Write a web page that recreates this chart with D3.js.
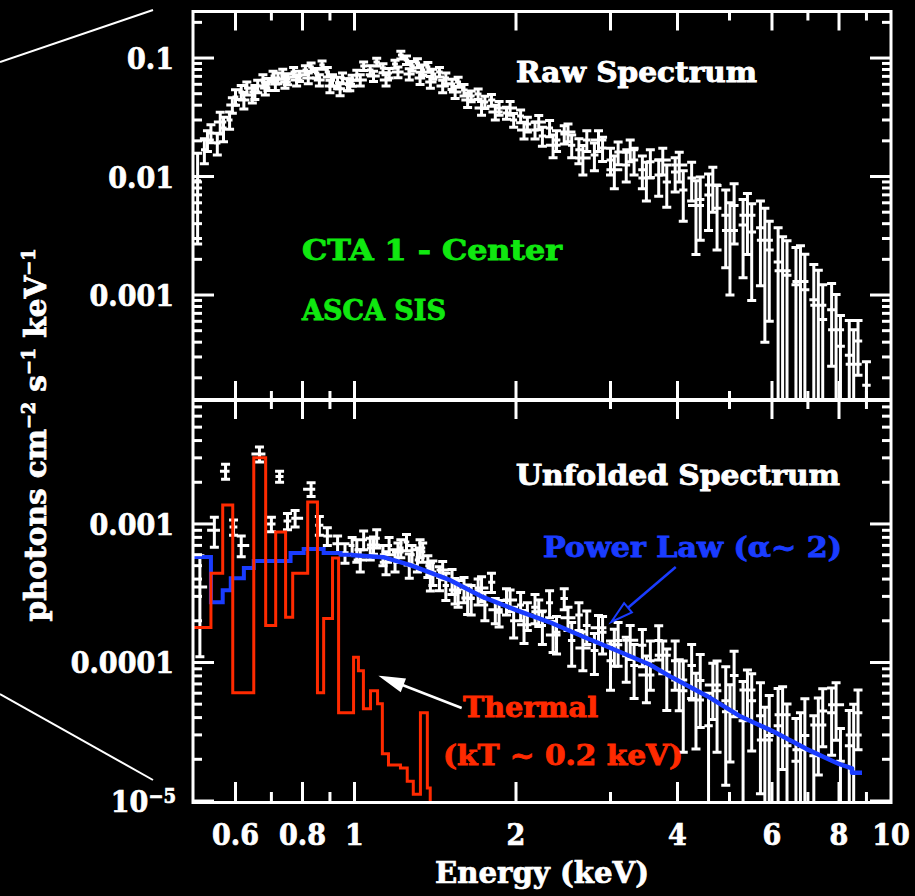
<!DOCTYPE html>
<html><head><meta charset="utf-8">
<script src="https://cdn.jsdelivr.net/npm/d3@7"></script>
<style>body{margin:0;background:#000;overflow:hidden}</style>
</head><body><svg id="c" width="915" height="896"></svg>
<script>
// ---------------- DATA ----------------
// Raw spectrum (top panel), detector A: bin centre energy (keV), flux, 1-sigma error
const rawE = [0.51,0.525,0.54,0.555,0.57,0.585,0.60,0.615,0.63,0.645,0.66,0.675,0.69,0.705,0.72,0.735,0.75,
  0.77,0.79,0.81,0.83,0.85,0.87,0.89,0.91,0.93,0.95,0.97,0.99,1.01,
  1.04,1.07,1.10,1.13,1.16,1.19,1.22,1.25,1.28,1.31,1.34,1.37,1.40,
  1.44,1.48,1.52,1.56,1.60,1.65,1.70,1.75,1.80,1.86,1.92,1.98,2.04,2.10,
  2.17,2.24,2.31,2.38,2.46,2.54,2.62,2.71,2.80,2.90,3.00,3.10,3.21,3.32,3.44,3.56,
  3.69,3.82,3.96,4.10,4.25,4.41,4.57,4.74,4.92,5.10,5.30,5.50,5.71,5.93,
  6.16,6.40,6.65,6.91,7.18,7.46,7.75,8.05,8.36,8.68,9.00];
const rawV = [0.0092,0.0168,0.0233,0.0192,0.0257,0.030,0.047,0.0516,0.0558,0.0487,0.058,0.0652,0.0603,0.0705,0.0678,0.0733,0.0665,
  0.0762,0.0705,0.0792,0.0839,0.0747,0.0873,0.0762,0.0652,0.062,0.0678,0.060,0.0647,0.0719,
  0.0856,0.0792,0.0925,0.0823,0.0747,0.089,0.106,0.0962,0.0856,0.0907,0.0792,0.0839,0.0733,
  0.0762,0.0678,0.0603,0.0627,0.0537,0.0478,0.0497,0.0425,0.0442,0.0379,0.0344,0.030,0.0324,0.0277,
  0.0247,0.022,0.0257,0.0203,0.0228,0.0184,0.0168,0.0203,0.0152,0.0174,0.0138,0.0161,0.0125,0.0138,0.0114,0.0133,
  0.0103,0.009,0.0109,0.0077,0.0097,0.0064,0.007,0.0054,0.0047,0.0057,0.0039,0.0034,0.0037,0.0024,
  0.0019,0.00147,0.00122,0.00111,0.00091,0.00062,0.00075,0.00037,0.00031,0.00041,0.000173];
const rawErr = [0.0065,0.004,0.004,0.004,0.006,0.005,0.007,0.007,0.007,0.007,0.007,0.007,0.007,0.007,0.007,0.007,0.007,
  0.007,0.007,0.007,0.007,0.007,0.007,0.007,0.007,0.007,0.007,0.007,0.007,0.007,
  0.007,0.007,0.007,0.007,0.007,0.007,0.008,0.008,0.008,0.008,0.008,0.008,0.007,
  0.007,0.007,0.006,0.006,0.006,0.005,0.005,0.005,0.005,0.005,0.004,0.004,0.004,0.004,
  0.004,0.004,0.004,0.004,0.004,0.004,0.004,0.004,0.004,0.004,0.0035,0.0035,0.0035,0.0035,0.0035,0.0035,
  0.0035,0.0035,0.0035,0.0035,0.0035,0.0035,0.0035,0.003,0.003,0.003,0.0025,0.0025,0.0025,0.0018,
  0.0018,0.0014,0.0013,0.0011,0.0009,0.0006,0.0005,0.0003,0.0003,0.0002,0.0001];

// Raw spectrum, detector B (interleaved bins)
const raw2E = [0.532,0.562,0.592,0.622,0.652,0.682,0.712,0.742,0.78,0.82,0.86,0.90,0.94,0.98,
  1.025,1.085,1.145,1.205,1.265,1.325,1.385,1.46,1.54,1.625,1.725,1.83,1.95,2.07,2.205,2.345,2.50,
  2.665,2.85,3.05,3.265,3.50,3.755,4.03,4.33,4.655,5.01,5.40,5.82,6.28,6.78,7.32,7.90,8.52];
const raw2V = [0.0203,0.0288,0.0402,0.0442,0.0516,0.0558,0.0603,0.0627,0.0652,0.0678,0.0652,0.058,0.055,0.060,
  0.0652,0.0705,0.0652,0.0762,0.0733,0.0678,0.0627,0.058,0.0516,0.0442,0.0379,0.035,0.0379,0.0247,0.0288,0.0184,0.0237,
  0.0143,0.0203,0.0114,0.0168,0.0097,0.0138,0.0125,0.0057,0.0085,0.0035,0.0047,0.0029,0.0016,0.0013,0.00082,0.00051,0.00026];
const raw2Err = [0.004,0.006,0.006,0.007,0.007,0.007,0.007,0.007,0.007,0.007,0.007,0.007,0.007,0.007,
  0.007,0.007,0.007,0.008,0.008,0.008,0.007,0.007,0.006,0.006,0.005,0.005,0.005,0.004,0.004,0.004,0.004,
  0.004,0.004,0.0035,0.0035,0.0035,0.0035,0.0035,0.0035,0.0035,0.0025,0.0025,0.0025,0.0015,0.0013,0.0008,0.0005,0.00025];

// Unfolded spectrum (bottom panel), detector A
const unfE = [0.515,0.548,0.575,0.595,0.615,0.665,0.70,0.725,0.75,0.775,0.83,0.86,0.89,0.93,0.96,0.99,
  1.01,1.04,1.07,1.10,1.13,1.16,1.19,1.22,1.25,1.28,1.31,1.34,1.37,1.40,
  1.44,1.48,1.52,1.56,1.60,1.65,1.70,1.75,1.80,1.86,1.92,1.98,2.04,2.10,
  2.17,2.24,2.31,2.38,2.46,2.54,2.62,2.71,2.80,2.90,3.00,3.10,3.21,3.32,3.44,3.56,
  3.69,3.82,3.96,4.10,4.25,4.41,4.57,4.74,4.92,5.10,5.30,5.50,5.71,5.93,
  6.16,6.40,6.65,6.91,7.18,7.46,7.75,8.05,8.36,8.68];
const unfV = [0.00035,0.0009,0.0024,0.00095,0.0007,0.0032,0.001,0.0022,0.00105,0.0011,0.00178,0.00098,0.00082,0.00072,0.00062,0.0007,
  0.00065,0.00077,0.00067,0.00079,0.0006,0.0007,0.00055,0.00067,0.00074,0.0006,0.00055,0.00063,0.0005,0.00045,
  0.00041,0.00036,0.00039,0.00032,0.00034,0.00029,0.00033,0.00026,0.00038,0.00023,0.00028,0.0002,0.00026,0.00022,
  0.00025,0.000185,0.00027,0.000165,0.00029,0.000144,0.00022,0.000185,0.000122,0.000165,0.000103,0.000144,0.000112,0.000095,0.000133,0.000103,
  0.000144,0.000085,0.000103,0.0000625,0.000095,0.000074,0.000035,0.0000625,0.000053,0.0000806,0.000038,0.000053,0.0000413,0.0000297,
  0.0000349,0.0000251,0.0000194,0.0000297,0.0000212,0.0000446,0.0000434,0.0000194,0.0000251,0.0000434];
const unfErr = [0.00024,0.00022,0.0003,0.00012,0.00012,0.0004,0.00012,0.0002,0.00014,0.00015,0.0002,0.00015,0.00012,0.0001,0.0001,0.0001,
  0.00012,0.00012,0.00012,0.00012,0.0001,0.0001,0.0001,0.0001,0.0001,0.0001,0.0001,0.0001,0.00009,0.00009,
  0.00008,0.00008,0.00008,0.00007,0.00007,0.00007,0.00007,0.00006,0.00006,0.00005,0.00006,0.00005,0.00006,0.00005,
  0.00006,0.00005,0.00006,0.00005,0.00005,0.00005,0.00005,0.00005,0.00004,0.00005,0.00004,0.00005,0.00004,0.00004,0.00004,0.00004,
  0.00004,0.00004,0.00004,0.00004,0.00004,0.00004,0.000025,0.00004,0.00004,0.00004,0.000035,0.00003,0.00003,0.000028,
  0.00003,0.000025,0.00002,0.000025,0.00002,0.00002,0.000022,0.000014,0.00002,0.00002];

// Unfolded spectrum, detector B
const unf2E = [1.025,1.085,1.145,1.205,1.265,1.325,1.385,1.46,1.54,1.625,1.725,1.83,1.95,2.07,2.205,2.345,2.50,
  2.665,2.85,3.05,3.265,3.50,3.755,4.03,4.33,4.655,5.01,5.40,5.82,6.28,6.78,7.32,7.90,8.52];
const unf2V = [0.00055,0.000705,0.00053,0.000628,0.000506,0.00067,0.000428,0.000466,0.000334,0.000292,0.000345,0.00024,0.000283,0.000187,0.000232,0.000158,0.00021,
  0.000127,0.000178,0.000134,0.000145,0.0000812,0.000113,0.0000748,0.0000537,0.0000688,0.0000441,0.0000634,0.0000276,0.0000419,0.0000234,0.0000354,0.0000495,0.00003];
const unf2Err = [0.0001,0.0001,0.0001,0.0001,0.0001,0.0001,0.0001,0.00007,0.00007,0.00007,0.00007,0.00005,0.00005,0.00005,0.00005,0.00004,0.00004,
  0.00004,0.00004,0.00004,0.00004,0.00003,0.00003,0.00003,0.00003,0.00003,0.000025,0.000025,0.00002,0.000025,0.00002,0.00002,0.000022,0.00002];

// Power-law model: low-energy staircase (bin lower edges) and smooth part
const plStepE = [0.50,0.54,0.568,0.588,0.622,0.649,0.76,0.804,0.876,0.942,0.983];
const plStepV = [5.78e-4,2.72e-4,3.32e-4,4.06e-4,4.8e-4,5.4e-4,6.16e-4,6.6e-4,6.16e-4,6.0e-4,5.96e-4];
const plE = [0.983,1.132,1.271,1.508,1.737,2.008,2.313,2.664,3.08,3.55,3.91,4.53,5.21,6.0,6.95,8.0,8.46,8.46,8.83];
const plV = [5.96e-4,5.76e-4,5.05e-4,3.93e-4,2.96e-4,2.38e-4,1.95e-4,1.54e-4,1.22e-4,9.67e-5,7.78e-5,5.76e-5,4.13e-5,3.21e-5,2.38e-5,1.85e-5,1.72e-5,1.60e-5,1.60e-5];

// Thermal model (kT ~ 0.2 keV): bin lower edges and values
const thE = [0.50,0.54,0.568,0.593,0.649,0.683,0.713,0.744,0.767,0.818,0.853,0.876,0.91,0.934,0.996,1.017,1.039,1.071,1.104,1.127,1.157,1.218,1.254,1.287,1.327,1.367,1.384];
const thV = [1.79e-4,4.41e-4,1.37e-3,6.05e-5,3.01e-3,1.85e-4,8.75e-4,2.12e-4,4.41e-4,1.44e-3,6.05e-5,2.08e-4,5.67e-4,4.33e-5,1.09e-4,8.73e-5,4.63e-5,6.25e-5,5.03e-5,2.19e-5,1.82e-5,1.73e-5,1.39e-5,1.12e-5,4.33e-5,1.24e-5,3e-6];

// Axis ticks
const xTickVals = [0.6,0.7,0.8,0.9,1,2,3,4,5,6,7,8,9];
const xMajorTop = [0.6,0.8,1,2,3,4,6,8];
const xMajorBot = [0.6,0.8,1,2,4,6,8];
const xLabelVals = [0.6,0.8,1,2,4,6,8,10];
const xLabelText = ["0.6","0.8","1","2","4","6","8","10"];
const topYLabelVals = [0.1,0.01,0.001];
const topYLabelText = ["0.1","0.01","0.001"];
const botYLabelVals = [0.001,0.0001];
const botYLabelText = ["0.001","0.0001"];

// Annotation arrows in data coordinates [E0,v0,E1,v1]
const thermalArrow = [1.584,4.69e-5,1.125,7.85e-5];
const plArrow = [3.97,4.89e-4,3.01,1.96e-4];

// ---------------- LAYOUT ----------------
const L=193, R=891, T1=11.5, B1=400, T2=400, B2=801;
const svg = d3.select("#c");
svg.append("rect").attr("width",915).attr("height",896).attr("fill","#000");

const x = d3.scaleLog().domain([0.5,10]).range([L,R]);
const y1 = d3.scaleLog().domain([1.3e-4,0.247]).range([B1,T1]);
const y2 = d3.scaleLog().domain([1e-5,0.00785]).range([B2,T2]);

const defs = svg.append("defs");
defs.append("clipPath").attr("id","ct").append("rect").attr("x",L).attr("y",T1).attr("width",R-L).attr("height",B1-T1);
defs.append("clipPath").attr("id","cb").append("rect").attr("x",L).attr("y",T2).attr("width",R-L).attr("height",B2+2-T2);

const FONT = "'DejaVu Serif Condensed','DejaVu Serif',serif";

function drawData(g, E, V, Er, y, yBot){
  const xs = E.map(x);
  let d = "";
  E.forEach((e,i)=>{
    const cx = xs[i];
    let l = i>0 ? (xs[i-1]+cx)/2 : cx-(xs[i+1]-cx)/2;
    let r = i<E.length-1 ? (cx+xs[i+1])/2 : cx+(cx-xs[i-1])/2;
    l = Math.max(l, cx-8); r = Math.min(r, cx+8);
    const yv = y(V[i]);
    const hi = y(V[i]+Er[i]);
    const lv = V[i]-Er[i];
    const lo = lv>0 ? Math.min(y(lv), yBot+5) : yBot+5;
    d += `M${l},${yv}H${r}M${cx},${hi}V${lo}M${cx-4.5},${hi}H${cx+4.5}`;
    if (lv>0 && y(lv)<yBot) d += `M${cx-4.5},${lo}H${cx+4.5}`;
  });
  g.append("path").attr("d",d).attr("fill","none").attr("stroke","#fff").attr("stroke-width",3);
}

// top panel data
const gt = svg.append("g").attr("clip-path","url(#ct)");
drawData(gt, rawE, rawV, rawErr, y1, B1);
drawData(gt, raw2E, raw2V, raw2Err, y1, B1);

// bottom panel
const gb = svg.append("g").attr("clip-path","url(#cb)");
drawData(gb, unfE, unfV, unfErr, y2, B2);
drawData(gb, unf2E, unf2V, unf2Err, y2, B2);

// power law
gb.append("path")
  .attr("d", d3.line().x(d=>x(d[0])).y(d=>y2(d[1])).curve(d3.curveStepAfter)(plStepE.map((e,i)=>[e,plStepV[i]])))
  .attr("fill","none").attr("stroke","#1a3cff").attr("stroke-width",4);
gb.append("path")
  .attr("d", d3.line().x(d=>x(d[0])).y(d=>y2(d[1])).curve(d3.curveLinear)(plE.map((e,i)=>[e,plV[i]])))
  .attr("fill","none").attr("stroke","#1a3cff").attr("stroke-width",4.5).attr("stroke-linejoin","round");

// thermal
gb.append("path")
  .attr("d", d3.line().x(d=>x(d[0])).y(d=>y2(d[1])).curve(d3.curveStepAfter)(thE.map((e,i)=>[e,thV[i]])))
  .attr("fill","none").attr("stroke","#ff2a00").attr("stroke-width",3);

// ---------------- FRAME & TICKS ----------------
const fr = svg.append("g").attr("stroke","#fff").attr("fill","none").attr("stroke-width",3);
fr.append("rect").attr("x",L).attr("y",T1).attr("width",R-L).attr("height",B2+1.5-T1);
fr.append("line").attr("x1",L).attr("x2",R).attr("y1",B1).attr("y2",B1).attr("stroke-width",4);

const tk = svg.append("g").attr("stroke","#fff").attr("stroke-width",3);
function xTicks(yEdge, dir, majors){
  xTickVals.forEach(v=>{
    const len = majors.includes(v) ? 19 : 9;
    tk.append("line").attr("x1",x(v)).attr("x2",x(v)).attr("y1",yEdge).attr("y2",yEdge+dir*len);
  });
}
xTicks(T1,1,xMajorTop); xTicks(B1,-1,xMajorTop);
xTicks(T2,1,xMajorBot); xTicks(B2,-1,xMajorBot);

function yTicks(y){
  y.ticks().forEach(v=>{
    const lg = Math.log10(v);
    const major = Math.abs(lg-Math.round(lg))<1e-6;
    const len = major ? 21 : 9;
    const py = y(v);
    tk.append("line").attr("x1",L).attr("x2",L+len).attr("y1",py).attr("y2",py);
    tk.append("line").attr("x1",R).attr("x2",R-len).attr("y1",py).attr("y2",py);
  });
}
yTicks(y1); yTicks(y2);

// tick labels
const lab = svg.append("g").attr("fill","#fff").attr("stroke","#fff").attr("stroke-width",0.7)
  .attr("font-family",FONT).attr("font-weight","bold").attr("font-size",30);
topYLabelVals.forEach((v,i)=>lab.append("text").attr("x",174).attr("y",y1(v)+11).attr("text-anchor","end").text(topYLabelText[i]));
botYLabelVals.forEach((v,i)=>lab.append("text").attr("x",174).attr("y",y2(v)+11).attr("text-anchor","end").text(botYLabelText[i]));
const t5 = lab.append("text").attr("x",176).attr("y",y2(1e-5)+11).attr("text-anchor","end");
t5.append("tspan").text("10");
t5.append("tspan").attr("dy",-9).attr("font-size",20).text("−5");
xLabelVals.forEach((v,i)=>lab.append("text").attr("x",x(v)).attr("y",845).attr("text-anchor","middle").text(xLabelText[i]));

// axis titles
lab.append("text").attr("x",542).attr("y",883).attr("text-anchor","middle")
  .attr("textLength",214).attr("lengthAdjust","spacingAndGlyphs").text("Energy (keV)");
const yl = lab.append("text").attr("transform","translate(46,435) rotate(-90)").attr("text-anchor","middle")
  .attr("font-size",30).attr("textLength",373).attr("lengthAdjust","spacingAndGlyphs");
yl.append("tspan").text("photons cm");
yl.append("tspan").attr("dy",-11).attr("font-size",18).text("−2");
yl.append("tspan").attr("dy",11).text(" s");
yl.append("tspan").attr("dy",-11).attr("font-size",18).text("−1");
yl.append("tspan").attr("dy",11).text(" keV");
yl.append("tspan").attr("dy",-11).attr("font-size",18).text("−1");

// panel labels
function label(txt, xx, yy, w, col, fs){
  svg.append("text").attr("x",xx).attr("y",yy).attr("fill",col).attr("stroke",col).attr("stroke-width",0.8)
    .attr("font-family",FONT).attr("font-weight","bold").attr("font-size",fs||27)
    .attr("textLength",w).attr("lengthAdjust","spacingAndGlyphs").text(txt);
}
label("Raw Spectrum",516,82,241,"#fff");
label("Unfolded Spectrum",516,485,324,"#fff");
label("CTA 1 - Center",302,260,260,"#10e810");
label("ASCA SIS",302,320,144,"#10e810");
label("Power Law (α~ 2)",543,557,299,"#1a3cff");
label("Thermal",463,717,135,"#ff2a00");
label("(kT ~ 0.2 keV)",443,765,240,"#ff2a00");

// arrows
function arrow(a, col, filled){
  const x0=x(a[0]), yy0=y2(a[1]), x1=x(a[2]), yy1=y2(a[3]);
  const ang = Math.atan2(yy1-yy0, x1-x0);
  const hl=22, hw=6;
  const bx = x1 - hl*Math.cos(ang), by = yy1 - hl*Math.sin(ang);
  const px = -Math.sin(ang)*hw, py = Math.cos(ang)*hw;
  svg.append("line").attr("x1",x0).attr("y1",yy0).attr("x2",bx).attr("y2",by).attr("stroke",col).attr("stroke-width",2.5);
  svg.append("path").attr("d",`M${x1},${yy1}L${bx+px},${by+py}L${bx-px},${by-py}Z`)
    .attr("fill",filled?col:"none").attr("stroke",col).attr("stroke-width",2);
}
arrow(thermalArrow,"#fff",true);
arrow(plArrow,"#1a3cff",false);

// diagonal connector lines at left
svg.append("line").attr("x1",0).attr("y1",62).attr("x2",153).attr("y2",10).attr("stroke","#fff").attr("stroke-width",2);
svg.append("line").attr("x1",0).attr("y1",694).attr("x2",153).attr("y2",780).attr("stroke","#fff").attr("stroke-width",2);
</script></body></html>
